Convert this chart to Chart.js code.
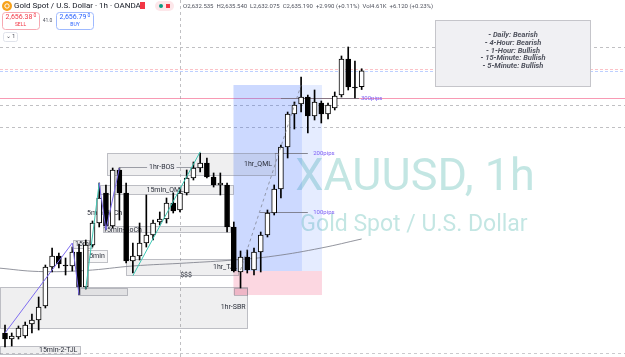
<!DOCTYPE html>
<html>
<head>
<meta charset="utf-8">
<script src="https://cdn.jsdelivr.net/npm/chart.js@4"></script>
<style>
  html, body { margin: 0; padding: 0; background: #fff; }
  #wrap { width: 625px; height: 357px; position: relative; }
</style>
</head>
<body>
<div id="wrap"><canvas id="chart"></canvas></div>
<script>
// XAUUSD 1h candles (index 0 = leftmost full candle)
const opens = [
  2591.50, 2590.50, 2590.83, 2591.00, 2593.00, 2593.67, 2596.00, 2602.50, 2604.33, 2602.83,
  2602.67, 2605.00, 2599.17, 2606.17, 2609.83, 2614.83, 2609.33, 2618.67, 2614.83, 2603.50,
  2604.33, 2606.50, 2607.83, 2610.00, 2610.50, 2613.17, 2612.00, 2614.83, 2617.33, 2619.00,
  2619.83, 2617.50, 2616.17, 2616.17, 2609.17, 2601.67, 2604.17, 2602.00, 2605.00, 2607.83,
  2611.50, 2615.50, 2622.50, 2628.00, 2629.67, 2630.83, 2627.67, 2629.83, 2628.00, 2629.00,
  2631.17, 2637.17, 2632.50, 2632.535
];
const highs = [
  2592.83, 2591.50, 2592.67, 2593.33, 2594.67, 2597.50, 2602.83, 2605.67, 2604.83, 2604.00,
  2605.83, 2606.33, 2607.00, 2610.17, 2616.50, 2616.17, 2619.00, 2619.00, 2616.50, 2606.50,
  2609.83, 2614.50, 2610.33, 2611.67, 2614.00, 2614.83, 2615.67, 2618.67, 2620.00, 2621.50,
  2620.67, 2618.17, 2618.17, 2616.50, 2610.00, 2605.17, 2605.33, 2605.67, 2608.33, 2612.00,
  2616.17, 2622.83, 2628.33, 2630.00, 2634.17, 2631.17, 2632.00, 2630.17, 2629.83, 2631.67,
  2637.67, 2639.17, 2636.83, 2635.54
];
const lows = [
  2589.17, 2589.33, 2590.50, 2590.67, 2591.50, 2592.00, 2595.67, 2601.67, 2602.33, 2601.17,
  2601.83, 2597.83, 2598.83, 2605.83, 2609.17, 2608.67, 2609.00, 2610.33, 2603.17, 2601.50,
  2603.67, 2605.83, 2607.00, 2609.50, 2609.83, 2611.50, 2611.67, 2614.50, 2617.00, 2618.33,
  2617.33, 2615.83, 2614.50, 2608.33, 2601.67, 2599.00, 2601.50, 2601.17, 2601.67, 2607.50,
  2611.17, 2614.00, 2620.67, 2625.50, 2628.33, 2624.83, 2627.00, 2626.50, 2627.17, 2628.67,
  2630.83, 2632.00, 2630.67, 2632.075
];
const closes = [
  2590.50, 2591.00, 2592.33, 2592.83, 2593.67, 2595.83, 2602.50, 2604.33, 2603.00, 2602.67,
  2605.00, 2599.17, 2606.17, 2609.83, 2614.00, 2609.33, 2618.67, 2614.83, 2603.50, 2604.33,
  2606.50, 2607.83, 2609.83, 2610.50, 2613.17, 2611.83, 2614.83, 2617.33, 2619.00, 2619.83,
  2617.50, 2616.17, 2616.50, 2609.17, 2601.83, 2604.17, 2602.00, 2605.00, 2607.83, 2611.50,
  2615.50, 2622.50, 2628.00, 2629.50, 2630.83, 2627.67, 2630.00, 2628.00, 2629.50, 2631.00,
  2637.17, 2632.50, 2632.33, 2635.19
];

// slow moving average (grey curve)
const maIdx = [-1, 5, 12, 19, 27, 34, 40, 47, 53];
const maVals = [2602.33, 2601.75, 2601.92, 2602.67, 2603.17, 2603.67, 2604.33, 2605.67, 2607.17];

// zigzag / swing lines
const purple1Idx = [0, 10, 11];
const purple1Vals = [2591.50, 2606.50, 2597.83];
const purple2Idx = [14, 15, 17];
const purple2Vals = [2616.50, 2608.67, 2619.00];
const teal1Idx = [12, 14];
const teal1Vals = [2598.83, 2616.50];
const teal2Idx = [19, 29];
const teal2Vals = [2601.05, 2621.70];
const diagIdx = [35, 44];
const diagVals = [2602.00, 2632.83];

// horizontal levels across the chart
const levels = [
  { price: 2639.17, color: 'rgba(150,150,155,0.6)', dash: [3, 3] },
  { price: 2635.50, color: 'rgba(242,54,69,0.3)', dash: [3, 2] },
  { price: 2635.17, color: 'rgba(41,98,255,0.3)', dash: [3, 2] },
  { price: 2630.67, color: 'rgba(242,54,105,0.5)', dash: [] },
  { price: 2629.42, color: 'rgba(150,150,155,0.6)', dash: [3, 3] },
  { price: 2625.83, color: 'rgba(150,150,155,0.6)', dash: [3, 3] },
  { price: 2588.25, color: 'rgba(150,150,155,0.5)', dash: [3, 3] }
];

// position tool (long) zones
const zones = [
  { x0: 33.95, x1: 44.13, top: 2632.83, bottom: 2601.83, fill: 'rgba(41,98,255,0.24)' },
  { x0: 44.13, x1: 47.10, top: 2632.83, bottom: 2601.83, fill: 'rgba(41,98,255,0.12)' },
  { x0: 33.95, x1: 47.10, top: 2601.83, bottom: 2597.83, fill: 'rgba(242,54,105,0.2)' }
];

// grey structure boxes
const boxes = [
  { x0: -0.74, x1: 35.96, top: 2599.17, bottom: 2592.33 },
  { x0: -0.74, x1: 11.14, top: 2589.33, bottom: 2588.0 },
  { x0: 11.14, x1: 18.13, top: 2599.0, bottom: 2597.83, fill: 'rgba(120,123,134,0.12)' },
  { x0: 34.03, x1: 35.96, top: 2599.0, bottom: 2597.83, fill: 'rgba(242,54,105,0.15)' },
  { x0: 15.16, x1: 40.12, top: 2621.50, bottom: 2617.83 },
  { x0: 14.12, x1: 33.88, top: 2616.17, bottom: 2614.67 },
  { x0: 14.56, x1: 33.43, top: 2609.33, bottom: 2608.33 },
  { x0: 18.0, x1: 34.6, top: 2603.83, bottom: 2601.17 },
  { x0: 10.1, x1: 12.9, top: 2607.0, bottom: 2605.67 },
  { x0: 12.18, x1: 15.16, top: 2605.33, bottom: 2603.33, fill: 'rgba(245,245,247,0.95)' }
];

// text labels attached to the structure
const labels = [
  { text: '1hr-BOS', x: 23.3, price: 2619.17, align: 'center' },
  { text: '15min_QML', x: 23.8, price: 2615.33, align: 'center' },
  { text: '1hr_QML', x: 37.6, price: 2619.67, align: 'center' },
  { text: '15min-HoCh', x: 14.56, price: 2608.58, align: 'left' },
  { text: '5min-HoCh', x: 12.2, price: 2611.50, align: 'left' },
  { text: '5min', x: 13.67, price: 2604.33, align: 'center' },
  { text: '15min', x: 10.4, price: 2606.33, align: 'left' },
  { text: '$$$', x: 26.9, price: 2601.17, align: 'center' },
  { text: '1hr_TJL', x: 30.9, price: 2602.50, align: 'left' },
  { text: '1hr-SBR', x: 33.9, price: 2595.83, align: 'center' },
  { text: '15min-2-TJL', x: 7.9, price: 2588.67, align: 'center' }
];

// pip markers of the position tool
const pipMarks = [
  { text: '100pips', x0: 37.9, x1: 45.0, price: 2611.75, lx: 45.8 },
  { text: '200pips', x0: 40.1, x1: 45.0, price: 2621.58, lx: 45.8 },
  { text: '300pips', x0: 41.0, x1: 52.6, price: 2630.67, lx: 52.9 }
];

const bias = ['- Daily: Bearish', '- 4-Hour: Bearish', '- 1-Hour: Bullish', '- 15-Minute: Bullish', '- 5-Minute: Bullish'];

const wickData = opens.map((o, i) => ({ x: i, y: [lows[i], highs[i]] }));
const bodyData = opens.map((o, i) => ({ x: i, y: [Math.min(o, closes[i]), Math.max(o, closes[i])] }));
const bodyColors = opens.map((o, i) => closes[i] >= o ? '#ffffff' : '#000000');

function pts(idx, vals) {
  return idx.map((x, i) => ({ x: x, y: vals[i] }));
}

function lineSet(idx, vals, color, extra) {
  return Object.assign({
    type: 'line',
    data: pts(idx, vals),
    borderColor: color,
    borderWidth: 1,
    pointRadius: 0,
    fill: false,
    order: 0
  }, extra || {});
}

const overlay = {
  id: 'overlay',
  beforeDatasetsDraw(chart) {
    const ctx = chart.ctx;
    const xs = chart.scales.x, ys = chart.scales.y;
    const X = v => xs.getPixelForValue(v);
    const Y = v => ys.getPixelForValue(v);
    ctx.save();

    // watermark
    ctx.fillStyle = 'rgba(38,166,154,0.28)';
    ctx.textAlign = 'center';
    ctx.textBaseline = 'alphabetic';
    ctx.font = '45px Roboto';
    ctx.fillText('XAUUSD, 1h', 415, 190);
    ctx.font = '23px Roboto';
    ctx.fillText('Gold Spot / U.S. Dollar', 414, 231);

    // levels
    levels.forEach(l => {
      ctx.strokeStyle = l.color;
      ctx.lineWidth = 1;
      ctx.setLineDash(l.dash);
      ctx.beginPath();
      ctx.moveTo(0, Math.round(Y(l.price)) + 0.5);
      ctx.lineTo(chart.width, Math.round(Y(l.price)) + 0.5);
      ctx.stroke();
    });
    ctx.strokeStyle = 'rgba(150,150,155,0.6)';
    ctx.setLineDash([3, 3]);
    ctx.beginPath();
    ctx.moveTo(Math.round(X(26)) + 0.5, 0);
    ctx.lineTo(Math.round(X(26)) + 0.5, chart.height);
    ctx.stroke();
    ctx.setLineDash([]);

    // zones
    zones.forEach(z => {
      ctx.fillStyle = z.fill;
      ctx.fillRect(X(z.x0), Y(z.top), X(z.x1) - X(z.x0), Y(z.bottom) - Y(z.top));
    });

    // boxes
    boxes.forEach(b => {
      const l = Math.round(X(b.x0)) + 0.5, t = Math.round(Y(b.top)) + 0.5;
      const w = Math.round(X(b.x1) - X(b.x0)), h = Math.round(Y(b.bottom) - Y(b.top));
      ctx.fillStyle = b.fill || 'rgba(120,123,134,0.12)';
      ctx.fillRect(l, t, w, h);
      ctx.strokeStyle = 'rgba(120,123,134,0.45)';
      ctx.lineWidth = 1;
      ctx.strokeRect(l, t, w, h);
    });

    // line through the BOS label
    ctx.strokeStyle = 'rgba(120,123,134,0.7)';
    ctx.beginPath();
    ctx.moveTo(X(17), Math.round(Y(2619.17)) + 0.5);
    ctx.lineTo(X(29.5), Math.round(Y(2619.17)) + 0.5);
    ctx.stroke();

    // labels
    ctx.font = '7px Roboto';
    ctx.textBaseline = 'middle';
    labels.forEach(l => {
      ctx.textAlign = l.align;
      const w = ctx.measureText(l.text).width;
      const x = X(l.x), y = Y(l.price);
      const left = l.align === 'center' ? x - w / 2 : x;
      ctx.fillStyle = 'rgba(238,238,241,1)';
      if (l.text === '1hr-BOS') ctx.fillRect(left - 2, y - 4, w + 4, 8);
      ctx.fillStyle = '#2a2e39';
      ctx.fillText(l.text, x, y);
    });

    // pip markers
    pipMarks.forEach(p => {
      const y = Math.round(Y(p.price)) + 0.5;
      ctx.strokeStyle = 'rgba(110,110,120,0.8)';
      ctx.beginPath();
      ctx.moveTo(X(p.x0), y);
      ctx.lineTo(X(p.x1), y);
      ctx.stroke();
      ctx.fillStyle = '#7b5cf5';
      ctx.font = '6px Roboto';
      ctx.textAlign = 'left';
      ctx.fillText(p.text, X(p.lx), y);
    });
    ctx.restore();
  },
  afterDraw(chart) {
    const ctx = chart.ctx;
    ctx.save();

    // bias table
    ctx.fillStyle = '#f0f0f3';
    ctx.fillRect(435.5, 20.5, 155, 66);
    ctx.strokeStyle = '#c5c5ca';
    ctx.lineWidth = 1;
    ctx.strokeRect(435.5, 20.5, 155, 66);
    ctx.fillStyle = '#50535e';
    ctx.font = 'italic bold 7.5px Roboto';
    ctx.textAlign = 'center';
    ctx.textBaseline = 'middle';
    bias.forEach((t, i) => ctx.fillText(t, 513, 35.5 + i * 7.7));

    // header
    ctx.fillStyle = '#f7a21b';
    ctx.beginPath();
    ctx.arc(7, 6, 5, 0, Math.PI * 2);
    ctx.fill();
    ctx.strokeStyle = '#fff';
    ctx.beginPath();
    ctx.arc(7, 6, 2.2, 0, Math.PI * 2);
    ctx.stroke();
    ctx.textAlign = 'left';
    ctx.fillStyle = '#131722';
    ctx.font = '8px Roboto';
    ctx.fillText('Gold Spot / U.S. Dollar · 1h · OANDA', 14, 6);
    ctx.fillStyle = '#f23645';
    ctx.fillRect(140, 2, 5, 7);
    ctx.fillStyle = '#fde7ea';
    ctx.beginPath();
    ctx.roundRect(155, 1, 19, 10, 5);
    ctx.fill();
    ctx.fillStyle = '#089981';
    ctx.beginPath();
    ctx.arc(161, 6, 2, 0, Math.PI * 2);
    ctx.fill();
    ctx.fillStyle = '#f23645';
    ctx.fillRect(166, 4, 4, 4);

    ctx.font = '6px Roboto';
    ctx.fillStyle = '#50535e';
    ctx.fillText('O2,632.535  H2,635.540  L2,632.075  C2,635.190  +2.990 (+0.11%)  Vol4.61K  +6.120 (+0.23%)', 183, 6);

    // sell / buy
    ctx.lineWidth = 1;
    ctx.strokeStyle = '#f7a9b2';
    ctx.fillStyle = '#fff';
    ctx.beginPath();
    ctx.roundRect(2.5, 12.5, 37, 17, 3);
    ctx.fill();
    ctx.stroke();
    ctx.strokeStyle = '#9fbaff';
    ctx.beginPath();
    ctx.roundRect(56.5, 12.5, 37, 17, 3);
    ctx.fill();
    ctx.stroke();
    ctx.textAlign = 'center';
    ctx.font = '7px Roboto';
    ctx.fillStyle = '#f23645';
    ctx.fillText('2,656.38', 19, 17.5);
    ctx.font = '5px Roboto';
    ctx.fillText('0', 35, 16);
    ctx.fillText('SELL', 20.5, 25);
    ctx.font = '7px Roboto';
    ctx.fillStyle = '#2962ff';
    ctx.fillText('2,656.79', 73, 17.5);
    ctx.font = '5px Roboto';
    ctx.fillText('0', 89, 16);
    ctx.fillText('BUY', 75, 25);
    ctx.fillStyle = '#50535e';
    ctx.fillText('41.0', 47.5, 21);

    ctx.strokeStyle = '#e0e3eb';
    ctx.beginPath();
    ctx.roundRect(3.5, 32.5, 14, 9, 2);
    ctx.stroke();
    ctx.fillStyle = '#50535e';
    ctx.font = '6px Roboto';
    ctx.fillText('⌄ 1', 10.5, 36.5);
    ctx.restore();
  }
};

async function chartIt() {
  const ctx = document.getElementById('chart');
  new Chart(ctx, {
    type: 'bar',
    data: {
      datasets: [
        lineSet(maIdx, maVals, 'rgba(120,123,134,0.8)', { tension: 0.4, order: 4 }),
        {
          label: 'wicks',
          data: wickData,
          backgroundColor: '#000',
          barThickness: 1,
          grouped: false,
          order: 3
        },
        {
          label: 'bodies',
          data: bodyData,
          backgroundColor: bodyColors,
          borderColor: '#000',
          borderWidth: 1,
          borderSkipped: false,
          barThickness: 5,
          minBarLength: 1,
          grouped: false,
          order: 2
        },
        lineSet(purple1Idx, purple1Vals, '#7e6cf0'),
        lineSet(purple2Idx, purple2Vals, '#7e6cf0'),
        lineSet(teal1Idx, teal1Vals, '#3cc8b4'),
        lineSet(teal2Idx, teal2Vals, '#3cc8b4'),
        lineSet(diagIdx, diagVals, 'rgba(120,123,134,0.7)', { borderDash: [3, 3] })
      ]
    },
    options: {
      maintainAspectRatio: false,
      animation: false,
      layout: { padding: 0 },
      plugins: { legend: { display: false }, tooltip: { enabled: false } },
      scales: {
        x: { type: 'linear', min: -0.743, max: 92.13, offset: false, display: false },
        y: { type: 'linear', min: 2587.5, max: 2647, display: false }
      }
    },
    plugins: [overlay]
  });
}

chartIt();
</script>
</body>
</html>
